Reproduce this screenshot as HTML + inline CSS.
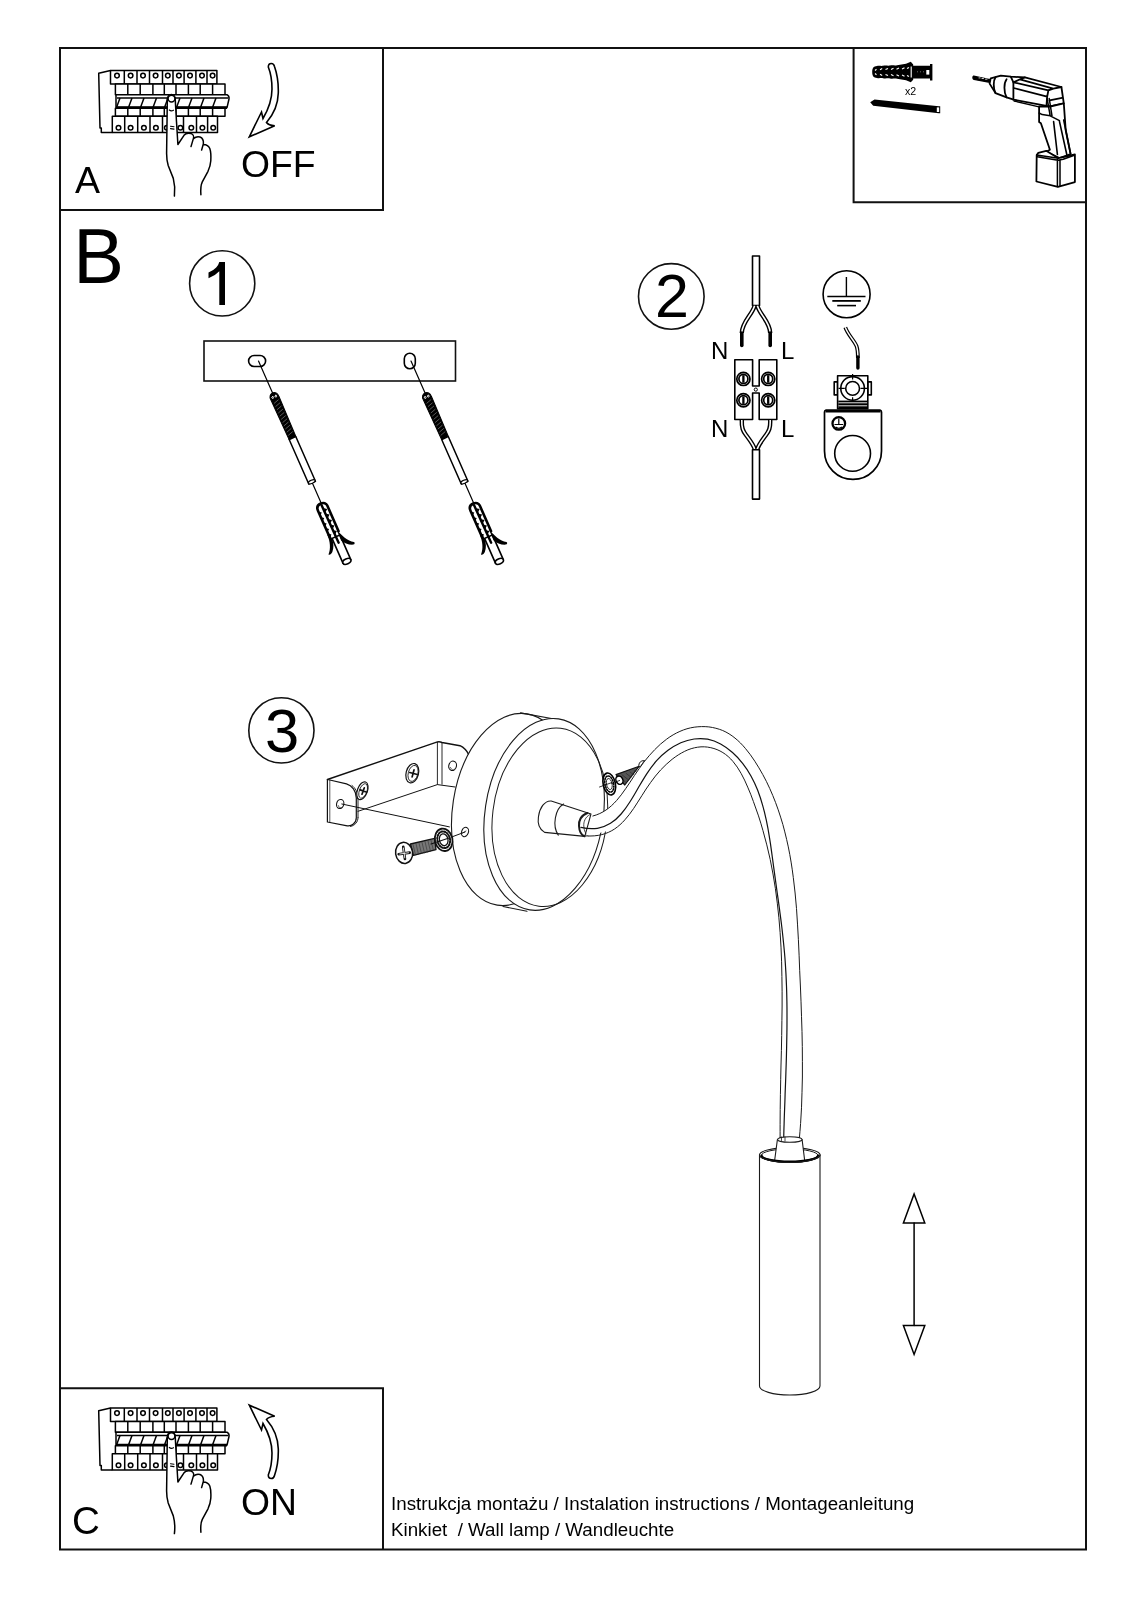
<!DOCTYPE html>
<html><head><meta charset="utf-8">
<style>
html,body{margin:0;padding:0;background:#fff;}
body{width:1131px;height:1600px;overflow:hidden;position:relative;}
svg{position:absolute;left:0;top:0;will-change:transform;}
text{font-family:"Liberation Sans",sans-serif;fill:#000;}
</style></head><body>
<svg width="1131" height="1600" viewBox="0 0 1131 1600">
<g id="frame" fill="none" stroke="#111" stroke-width="2">
<rect x="60" y="48" width="1026" height="1501.5"/>
<polyline points="60,210 383,210 383,48"/>
<polyline points="853.6,48 853.6,202.2 1086,202.2"/>
<polyline points="60,1388.2 383,1388.2 383,1549.5"/>
</g><g id="texts">
<text x="75" y="193" font-size="37.5">A</text>
<text x="241" y="177" font-size="37.3">OFF</text>
<text x="73" y="283" font-size="78" transform="translate(80,0) scale(0.975,1) translate(-80,0)">B</text>
<path d="M219.3,262 L225,262 L225,305 L219.3,305 L219.3,271.3 Q215,276 208.5,278.2 L208.5,272.6 Q213,271 216.2,267.6 Q218.6,264.8 219.3,262 Z"/>
<text x="655" y="317" font-size="61">2</text>
<text x="265" y="752" font-size="61.5">3</text>
<text x="711" y="359" font-size="24">N</text>
<text x="781" y="359" font-size="24">L</text>
<text x="711" y="437.3" font-size="24">N</text>
<text x="781" y="437.3" font-size="24">L</text>
<text x="905" y="95.4" font-size="10.6">x2</text>
<text x="241" y="1515.2" font-size="37.3">ON</text>
<text x="72" y="1534" font-size="38.5">C</text>
<text x="391" y="1510.4" font-size="18.75">Instrukcja montażu / Instalation instructions / Montageanleitung</text>
<text x="391" y="1535.8" font-size="18.75">Kinkiet&#160; / Wall lamp / Wandleuchte</text>
</g>
<g id="circles" fill="none" stroke="#111" stroke-width="1.6">
<circle cx="222.2" cy="283.4" r="32.6"/>
<circle cx="671.3" cy="296.4" r="32.8"/>
<circle cx="281.4" cy="730.4" r="32.6"/>
</g><g id="boxA">
<g fill="#fff" stroke="#000" stroke-width="1.5" stroke-linejoin="round">
<path d="M110.5,70.5 L98.7,73.3 L100,128 L101.3,128 L101.3,132.4 L112.3,132.4" fill="none"/>
<rect x="110.5" y="70.5" width="106.4" height="13.6"/>
<line x1="124.3" y1="70.5" x2="124.3" y2="84.1"/>
<line x1="137" y1="70.5" x2="137" y2="84.1"/>
<line x1="149.5" y1="70.5" x2="149.5" y2="84.1"/>
<line x1="162.5" y1="70.5" x2="162.5" y2="84.1"/>
<line x1="173" y1="70.5" x2="173" y2="84.1"/>
<line x1="184.1" y1="70.5" x2="184.1" y2="84.1"/>
<line x1="195.9" y1="70.5" x2="195.9" y2="84.1"/>
<line x1="207" y1="70.5" x2="207" y2="84.1"/>
<circle cx="117" cy="75.6" r="2.3"/>
<circle cx="130.6" cy="75.6" r="2.3"/>
<circle cx="143" cy="75.6" r="2.3"/>
<circle cx="155.6" cy="75.6" r="2.3"/>
<circle cx="167.8" cy="75.6" r="2.3"/>
<circle cx="178.9" cy="75.6" r="2.3"/>
<circle cx="190" cy="75.6" r="2.3"/>
<circle cx="202" cy="75.6" r="2.3"/>
<circle cx="212.6" cy="75.6" r="2.3"/>
<rect x="115.4" y="84.1" width="109.6" height="10.6"/>
<line x1="127.8" y1="84.1" x2="127.8" y2="94.7"/>
<line x1="140.2" y1="84.1" x2="140.2" y2="94.7"/>
<line x1="152.9" y1="84.1" x2="152.9" y2="94.7"/>
<line x1="164.3" y1="84.1" x2="164.3" y2="94.7"/>
<line x1="176" y1="84.1" x2="176" y2="94.7"/>
<line x1="188.4" y1="84.1" x2="188.4" y2="94.7"/>
<line x1="200.2" y1="84.1" x2="200.2" y2="94.7"/>
<line x1="212.6" y1="84.1" x2="212.6" y2="94.7"/>
<path d="M116,94.7 L227,94.7 Q229.5,96 229,99 L227,107.6 L116,107.6 Z"/>
<line x1="117" y1="98" x2="228" y2="98"/>
<line x1="120" y1="98" x2="116.5" y2="107.6"/>
<line x1="132" y1="98" x2="128.5" y2="107.6"/>
<line x1="144" y1="98" x2="140.5" y2="107.6"/>
<line x1="156.5" y1="98" x2="153" y2="107.6"/>
<line x1="168" y1="98" x2="164.5" y2="107.6"/>
<line x1="180" y1="98" x2="176.5" y2="107.6"/>
<line x1="192" y1="98" x2="188.5" y2="107.6"/>
<line x1="204" y1="98" x2="200.5" y2="107.6"/>
<line x1="216" y1="98" x2="212.5" y2="107.6"/>
<line x1="116" y1="107.6" x2="227" y2="107.6" stroke-width="2.6"/>
<rect x="115.4" y="108.3" width="109.6" height="8"/>
<line x1="127.8" y1="108.3" x2="127.8" y2="116.3"/>
<line x1="140.2" y1="108.3" x2="140.2" y2="116.3"/>
<line x1="152.9" y1="108.3" x2="152.9" y2="116.3"/>
<line x1="164.3" y1="108.3" x2="164.3" y2="116.3"/>
<line x1="176" y1="108.3" x2="176" y2="116.3"/>
<line x1="188.4" y1="108.3" x2="188.4" y2="116.3"/>
<line x1="200.2" y1="108.3" x2="200.2" y2="116.3"/>
<line x1="212.6" y1="108.3" x2="212.6" y2="116.3"/>
<rect x="112.3" y="116.3" width="105.2" height="16.1"/>
<line x1="124.7" y1="116.3" x2="124.7" y2="132.4"/>
<line x1="137.7" y1="116.3" x2="137.7" y2="132.4"/>
<line x1="150" y1="116.3" x2="150" y2="132.4"/>
<line x1="162.5" y1="116.3" x2="162.5" y2="132.4"/>
<line x1="172.5" y1="116.3" x2="172.5" y2="132.4"/>
<line x1="183.5" y1="116.3" x2="183.5" y2="132.4"/>
<line x1="196.5" y1="116.3" x2="196.5" y2="132.4"/>
<line x1="207.6" y1="116.3" x2="207.6" y2="132.4"/>
<circle cx="118.5" cy="127.8" r="2.3"/>
<circle cx="130.6" cy="127.8" r="2.3"/>
<circle cx="143.9" cy="127.8" r="2.3"/>
<circle cx="155.9" cy="127.8" r="2.3"/>
<circle cx="166.8" cy="127.8" r="2.3"/>
<circle cx="180.4" cy="127.8" r="2.3"/>
<circle cx="191.3" cy="127.8" r="2.3"/>
<circle cx="202.4" cy="127.8" r="2.3"/>
<circle cx="213.2" cy="127.8" r="2.3"/>
</g>
<g fill="#fff" stroke="#000" stroke-width="1.5" stroke-linecap="round" stroke-linejoin="round">
<path d="M167.3,100.6 C167.3,96 169,94.6 171.5,94.6 C174,94.6 175.3,96 175.3,100.6 L176.5,121.8 L177.9,144.5 L184,135.3 L193.5,138.1 L203.5,144 L210,150 L210.8,160.7 L200.9,194.7 L174.4,196.1 L166.6,153.6 Z" stroke="none"/>
<path fill="none" d="M167.3,100.6 C167.3,96 169,94.6 171.5,94.6 C174,94.6 175.3,96 175.3,100.6 L176.5,121.8 L177.9,144.5 L184,135.3 C185.5,133.3 188,132.8 191,133.5 C193,134.2 194,136.5 193.5,138.1 L191,146.6 M193.8,138.6 C195.5,136.8 198,136.5 200,137 C202.5,138 203.6,141 203.4,143.7 L201.6,150.1 M203.6,144.4 C206,144.4 208.5,145.5 209.8,148.5 C211,152 211,157 210.8,160.7 C210.5,165 209.5,168 208,171.3 L202.3,181.9 C200.8,185 200.4,188 200.9,194.7 M174.4,196.1 C175.2,190 175,185 173.3,178.4 L168.2,165.5 C166.8,161 166.6,157 166.6,153.6 L167.3,100.6"/>
<circle cx="171.5" cy="98.6" r="3.4"/>
<path d="M169.3,110 Q171.2,111.5 173.4,110.2" fill="none" stroke-width="1.2"/>
<path d="M170.5,126.2 L174,126.7 M170.5,128.6 L174,129.1" fill="none" stroke-width="1.1"/>
</g>
<path d="M268.3,67 Q268.3,63.5 271.3,63.5 Q273.8,63.5 274.5,66.5 C277.5,75 278.5,85 278.3,93 C278,105 273,115 266.5,122.5 Q268.5,125.3 274.7,125.8 L249.3,136.8 L261.5,112 L263,118.5 C268,110 272,100 272,89 C272,80 270.3,72 268.3,67 Z" fill="none" stroke="#000" stroke-width="1.6" stroke-linejoin="miter"/>
</g><g id="boxC">
<g transform="translate(0,1337.5)">
<g fill="#fff" stroke="#000" stroke-width="1.5" stroke-linejoin="round">
<path d="M110.5,70.5 L98.7,73.3 L100,128 L101.3,128 L101.3,132.4 L112.3,132.4" fill="none"/>
<rect x="110.5" y="70.5" width="106.4" height="13.6"/>
<line x1="124.3" y1="70.5" x2="124.3" y2="84.1"/>
<line x1="137" y1="70.5" x2="137" y2="84.1"/>
<line x1="149.5" y1="70.5" x2="149.5" y2="84.1"/>
<line x1="162.5" y1="70.5" x2="162.5" y2="84.1"/>
<line x1="173" y1="70.5" x2="173" y2="84.1"/>
<line x1="184.1" y1="70.5" x2="184.1" y2="84.1"/>
<line x1="195.9" y1="70.5" x2="195.9" y2="84.1"/>
<line x1="207" y1="70.5" x2="207" y2="84.1"/>
<circle cx="117" cy="75.6" r="2.3"/>
<circle cx="130.6" cy="75.6" r="2.3"/>
<circle cx="143" cy="75.6" r="2.3"/>
<circle cx="155.6" cy="75.6" r="2.3"/>
<circle cx="167.8" cy="75.6" r="2.3"/>
<circle cx="178.9" cy="75.6" r="2.3"/>
<circle cx="190" cy="75.6" r="2.3"/>
<circle cx="202" cy="75.6" r="2.3"/>
<circle cx="212.6" cy="75.6" r="2.3"/>
<rect x="115.4" y="84.1" width="109.6" height="10.6"/>
<line x1="127.8" y1="84.1" x2="127.8" y2="94.7"/>
<line x1="140.2" y1="84.1" x2="140.2" y2="94.7"/>
<line x1="152.9" y1="84.1" x2="152.9" y2="94.7"/>
<line x1="164.3" y1="84.1" x2="164.3" y2="94.7"/>
<line x1="176" y1="84.1" x2="176" y2="94.7"/>
<line x1="188.4" y1="84.1" x2="188.4" y2="94.7"/>
<line x1="200.2" y1="84.1" x2="200.2" y2="94.7"/>
<line x1="212.6" y1="84.1" x2="212.6" y2="94.7"/>
<path d="M116,94.7 L227,94.7 Q229.5,96 229,99 L227,107.6 L116,107.6 Z"/>
<line x1="117" y1="98" x2="228" y2="98"/>
<line x1="120" y1="98" x2="116.5" y2="107.6"/>
<line x1="132" y1="98" x2="128.5" y2="107.6"/>
<line x1="144" y1="98" x2="140.5" y2="107.6"/>
<line x1="156.5" y1="98" x2="153" y2="107.6"/>
<line x1="168" y1="98" x2="164.5" y2="107.6"/>
<line x1="180" y1="98" x2="176.5" y2="107.6"/>
<line x1="192" y1="98" x2="188.5" y2="107.6"/>
<line x1="204" y1="98" x2="200.5" y2="107.6"/>
<line x1="216" y1="98" x2="212.5" y2="107.6"/>
<line x1="116" y1="107.6" x2="227" y2="107.6" stroke-width="2.6"/>
<rect x="115.4" y="108.3" width="109.6" height="8"/>
<line x1="127.8" y1="108.3" x2="127.8" y2="116.3"/>
<line x1="140.2" y1="108.3" x2="140.2" y2="116.3"/>
<line x1="152.9" y1="108.3" x2="152.9" y2="116.3"/>
<line x1="164.3" y1="108.3" x2="164.3" y2="116.3"/>
<line x1="176" y1="108.3" x2="176" y2="116.3"/>
<line x1="188.4" y1="108.3" x2="188.4" y2="116.3"/>
<line x1="200.2" y1="108.3" x2="200.2" y2="116.3"/>
<line x1="212.6" y1="108.3" x2="212.6" y2="116.3"/>
<rect x="112.3" y="116.3" width="105.2" height="16.1"/>
<line x1="124.7" y1="116.3" x2="124.7" y2="132.4"/>
<line x1="137.7" y1="116.3" x2="137.7" y2="132.4"/>
<line x1="150" y1="116.3" x2="150" y2="132.4"/>
<line x1="162.5" y1="116.3" x2="162.5" y2="132.4"/>
<line x1="172.5" y1="116.3" x2="172.5" y2="132.4"/>
<line x1="183.5" y1="116.3" x2="183.5" y2="132.4"/>
<line x1="196.5" y1="116.3" x2="196.5" y2="132.4"/>
<line x1="207.6" y1="116.3" x2="207.6" y2="132.4"/>
<circle cx="118.5" cy="127.8" r="2.3"/>
<circle cx="130.6" cy="127.8" r="2.3"/>
<circle cx="143.9" cy="127.8" r="2.3"/>
<circle cx="155.9" cy="127.8" r="2.3"/>
<circle cx="166.8" cy="127.8" r="2.3"/>
<circle cx="180.4" cy="127.8" r="2.3"/>
<circle cx="191.3" cy="127.8" r="2.3"/>
<circle cx="202.4" cy="127.8" r="2.3"/>
<circle cx="213.2" cy="127.8" r="2.3"/>
</g>
<g fill="#fff" stroke="#000" stroke-width="1.5" stroke-linecap="round" stroke-linejoin="round">
<path d="M167.3,100.6 C167.3,96 169,94.6 171.5,94.6 C174,94.6 175.3,96 175.3,100.6 L176.5,121.8 L177.9,144.5 L184,135.3 L193.5,138.1 L203.5,144 L210,150 L210.8,160.7 L200.9,194.7 L174.4,196.1 L166.6,153.6 Z" stroke="none"/>
<path fill="none" d="M167.3,100.6 C167.3,96 169,94.6 171.5,94.6 C174,94.6 175.3,96 175.3,100.6 L176.5,121.8 L177.9,144.5 L184,135.3 C185.5,133.3 188,132.8 191,133.5 C193,134.2 194,136.5 193.5,138.1 L191,146.6 M193.8,138.6 C195.5,136.8 198,136.5 200,137 C202.5,138 203.6,141 203.4,143.7 L201.6,150.1 M203.6,144.4 C206,144.4 208.5,145.5 209.8,148.5 C211,152 211,157 210.8,160.7 C210.5,165 209.5,168 208,171.3 L202.3,181.9 C200.8,185 200.4,188 200.9,194.7 M174.4,196.1 C175.2,190 175,185 173.3,178.4 L168.2,165.5 C166.8,161 166.6,157 166.6,153.6 L167.3,100.6"/>
<circle cx="171.5" cy="98.6" r="3.4"/>
<path d="M169.3,110 Q171.2,111.5 173.4,110.2" fill="none" stroke-width="1.2"/>
<path d="M170.5,126.2 L174,126.7 M170.5,128.6 L174,129.1" fill="none" stroke-width="1.1"/>
</g>
</g>
<g transform="translate(0,1542) scale(1,-1)"><path d="M268.3,67 Q268.3,63.5 271.3,63.5 Q273.8,63.5 274.5,66.5 C277.5,75 278.5,85 278.3,93 C278,105 273,115 266.5,122.5 Q268.5,125.3 274.7,125.8 L249.3,136.8 L261.5,112 L263,118.5 C268,110 272,100 272,89 C272,80 270.3,72 268.3,67 Z" fill="none" stroke="#000" stroke-width="1.6"/></g>
</g><g id="drill">
<!-- dowel -->
<path d="M872.2,72 C872.2,68 873.5,66.2 877,66 C879,65.3 881,66.3 883,65.8 C885.5,65 887.5,66 890,65.5 C892.5,64.8 894.5,65.8 897,65.2 C900,64.5 903,64.5 906,63.8 L910.8,61.8 L913.2,64.4 L913.2,65.8 L930,65.8 L930,64 L932.4,64 L932.4,80.4 L930,80.4 L930,78.4 L913.2,78.4 L913.2,79.8 L910.8,82.2 L906,80.2 C903,79.5 900,79.5 897,78.8 C894.5,78.2 892.5,79.2 890,78.5 C887.5,78 885.5,79 883,78.2 C881,77.7 879,78.7 877,78 C873.5,77.8 872.2,76 872.2,72 Z" fill="#000"/>
<g stroke="#fff" stroke-width="1.1">
<path d="M875,70.5 l1.5,-1.2 M880,69.8 l2.2,-1.2 M885.5,69.6 l2.5,-1.2 M891,69.4 l2.5,-1.2 M896.5,69.2 l2.5,-1.2 M902,69 l2.5,-1.2 M907,68.6 l2,-1"/>
<path d="M875,73.5 l1.5,1.2 M880,74.2 l2.2,1.2 M885.5,74.4 l2.5,1.2 M891,74.6 l2.5,1.2 M896.5,74.8 l2.5,1.2 M902,75 l2.5,1.2 M907,75.4 l2,1"/>
<path d="M911.2,66.5 v11"/>
</g>
<rect x="926.3" y="70" width="3" height="4.6" fill="#fff"/>
<path d="M917,71.8 h1 M920,71.8 h1 M923,71.8 h1" stroke="#888" stroke-width="0.8"/>
<!-- screw -->
<path d="M870.2,102.2 L874.5,99.6 L938.8,106.2 L940.2,106.2 L940.2,113.2 L938.8,113.2 L873.2,105.8 Z" fill="#000"/>
<rect x="936.8" y="107.4" width="2.4" height="4.6" fill="#fff"/>
<!-- drill -->
<g fill="#fff" stroke="#000" stroke-width="1.8" stroke-linejoin="round" stroke-linecap="round">
<path d="M973.7,76.2 C972.5,77 972.8,79 974,79.4 L989.8,82.2 L989.8,79.6 Z" fill="#000" stroke-width="1.4"/>
<path d="M979,77.9 h1.2 M982,78.5 h1.5 M985.5,79.2 h1.5" stroke="#fff" stroke-width="0.8"/>
<path d="M990.7,78.3 L1000.8,75.6 L1010.8,76.7 L1024.9,77.4 L1061.4,87 L1063.8,103.4 L1050.2,106.5 L1046.5,105.9 L1013.7,99.7 L1006.6,97.4 L995.5,93.1 L989.6,83.6 Z"/>
<path d="M995.5,77.2 C993.3,80.5 993,88 995.5,93.1 M1006.6,79.3 C1003.8,83 1003.6,92 1006.6,97.4" fill="none"/>
<path d="M1010.8,76.7 L1013.4,82.4 L1013.4,99.7" fill="none"/>
<path d="M1013.4,82.4 L1019.9,79.3 L1024.9,77.4 M1019.9,79.3 L1053.3,88.6 L1061.4,87 M1013.7,82.4 L1048.4,90.4 L1053.3,88.6" fill="none"/>
<path d="M1013.7,88 L1047.1,96.6 M1048.4,90.4 L1047.1,97 L1046.5,105.9 M1049.6,100.3 L1062,97.8" fill="none"/>
<path d="M1014,101 L1039,106.8" fill="none" stroke-width="1.3"/>
<path d="M1039.1,106.5 L1050.2,106.5 L1063.8,103.4 L1065.7,130 L1070.6,154 L1059.5,158 L1046.2,151.8 L1049.9,149.7 L1040.9,123.2 L1039.1,122 Z"/>
<path d="M1039.1,113 L1042.2,114.6 L1050.2,115.8 L1059.5,120.7 M1047.1,98.5 L1050.2,115.8 M1049.2,98.5 L1052,115.8" fill="none" stroke-width="1.5"/>
<path d="M1053.6,121.6 L1057.4,154.5 M1059.5,121.6 L1066.9,155 M1063.7,120 L1070.6,154" fill="none" stroke-width="1.6"/>
<path d="M1036.7,155 L1038.3,152.9 L1046.2,150.8 L1058.4,158.2 L1074.9,154.5 L1074.9,182.1 L1057.9,186.8 L1036.4,181.5 Z"/>
<path d="M1036.7,155 L1058.4,158.2 M1037.2,156.8 L1057.9,160.3 L1063.2,159.3 L1074.3,155.2 M1057.4,159.5 L1057.4,186.5 M1060,160 L1060,186" fill="none" stroke-width="1.5"/>
</g>
</g>
<g id="part1">
<rect x="204" y="341" width="251.5" height="40" fill="none" stroke="#111" stroke-width="1.6"/>
<rect x="248.6" y="355.5" width="17" height="11" rx="5.5" fill="none" stroke="#000" stroke-width="1.6"/>
<rect x="404.3" y="353.2" width="11" height="15.6" rx="5.5" fill="none" stroke="#000" stroke-width="1.6"/>
<g transform="translate(258.5,361) rotate(-23.8)"><g fill="#fff" stroke="#000" stroke-linejoin="round" stroke-linecap="round">
<line x1="0" y1="0" x2="0" y2="36" stroke-width="1.2"/>
<path d="M-4.4,40.5 C-4.8,37 -2.5,34.8 0,34.8 C2.5,34.8 4.8,37 4.4,40.5 L3.7,84.2 L-3.7,84.2 Z" fill="#000" stroke-width="1"/>
<g stroke="#fff" stroke-width="0.8" fill="none">
<path d="M-1.8,38.2 a0.9,0.9 0 1,0 0.1,0 M1.6,38.2 a0.9,0.9 0 1,0 0.1,0"/>
</g>
<g stroke="#fff" stroke-width="0.45" stroke-opacity="0.7" fill="none">
<path d="M-2.5,45 L2.5,43.5 M-2.5,48.5 L2.5,47 M-2.5,52 L2.5,50.5 M-2.5,55.5 L2.5,54 M-2.5,59 L2.5,57.5 M-2.5,62.5 L2.5,61 M-2.5,66 L2.5,64.5 M-2.5,69.5 L2.5,68 M-2.5,73 L2.5,71.5 M-2.5,76.5 L2.5,75 M-2.5,80 L2.5,78.5"/>
</g>
<rect x="-3.6" y="84.2" width="7.2" height="48.8" stroke-width="1.5"/>
<ellipse cx="0" cy="132" rx="3.6" ry="1.6" stroke-width="1.2"/>
<line x1="0" y1="134" x2="0" y2="156" stroke-width="1.2"/>
<path d="M-4.3,192 L-4.3,219 L4.3,219 L4.3,192 Z" stroke-width="1.6"/>
<ellipse cx="0" cy="219" rx="4.3" ry="2.6" stroke-width="1.6"/>
<path d="M-6,190 L-6,161 C-6,157 -3.5,155.5 -0.5,155.5 C2.5,155.5 4.6,157.5 4.6,160 L4.6,188" stroke-width="2.6"/>
<g fill="#000" stroke="none">
<path d="M-6,162 l2.8,2.2 l-2.8,2.2 Z M-6,168 l2.8,2.2 l-2.8,2.2 Z M-6,174 l2.8,2.2 l-2.8,2.2 Z M-6,180 l2.8,2.2 l-2.8,2.2 Z M-6,186 l2.8,2.2 l-2.8,2.2 Z"/>
<path d="M0.3,161 l2.8,2.2 l-2.8,2.2 Z M0.3,167 l2.8,2.2 l-2.8,2.2 Z M0.3,173 l2.8,2.2 l-2.8,2.2 Z M0.3,179 l2.8,2.2 l-2.8,2.2 Z M0.3,185 l2.8,2.2 l-2.8,2.2 Z"/>
<path d="M-7.2,187 C-7.2,194 -9.5,201 -14,205.2 C-13.5,206.5 -11,206 -9.5,204.5 C-6.5,201.5 -4.6,197 -4.4,192 L-4.6,187 Z"/>
<path d="M3.4,185 C5.5,193.5 9,200.5 14.3,204 C15.2,204.8 14.5,206.5 12.5,206.2 C8,204.5 5,201 3.2,197.5 Z"/>
</g>
<path d="M-0.5,157.5 L0,198.6" stroke-width="2.4"/>
</g>
</g>
<g transform="translate(411,361) rotate(-23.8)"><g fill="#fff" stroke="#000" stroke-linejoin="round" stroke-linecap="round">
<line x1="0" y1="0" x2="0" y2="36" stroke-width="1.2"/>
<path d="M-4.4,40.5 C-4.8,37 -2.5,34.8 0,34.8 C2.5,34.8 4.8,37 4.4,40.5 L3.7,84.2 L-3.7,84.2 Z" fill="#000" stroke-width="1"/>
<g stroke="#fff" stroke-width="0.8" fill="none">
<path d="M-1.8,38.2 a0.9,0.9 0 1,0 0.1,0 M1.6,38.2 a0.9,0.9 0 1,0 0.1,0"/>
</g>
<g stroke="#fff" stroke-width="0.45" stroke-opacity="0.7" fill="none">
<path d="M-2.5,45 L2.5,43.5 M-2.5,48.5 L2.5,47 M-2.5,52 L2.5,50.5 M-2.5,55.5 L2.5,54 M-2.5,59 L2.5,57.5 M-2.5,62.5 L2.5,61 M-2.5,66 L2.5,64.5 M-2.5,69.5 L2.5,68 M-2.5,73 L2.5,71.5 M-2.5,76.5 L2.5,75 M-2.5,80 L2.5,78.5"/>
</g>
<rect x="-3.6" y="84.2" width="7.2" height="48.8" stroke-width="1.5"/>
<ellipse cx="0" cy="132" rx="3.6" ry="1.6" stroke-width="1.2"/>
<line x1="0" y1="134" x2="0" y2="156" stroke-width="1.2"/>
<path d="M-4.3,192 L-4.3,219 L4.3,219 L4.3,192 Z" stroke-width="1.6"/>
<ellipse cx="0" cy="219" rx="4.3" ry="2.6" stroke-width="1.6"/>
<path d="M-6,190 L-6,161 C-6,157 -3.5,155.5 -0.5,155.5 C2.5,155.5 4.6,157.5 4.6,160 L4.6,188" stroke-width="2.6"/>
<g fill="#000" stroke="none">
<path d="M-6,162 l2.8,2.2 l-2.8,2.2 Z M-6,168 l2.8,2.2 l-2.8,2.2 Z M-6,174 l2.8,2.2 l-2.8,2.2 Z M-6,180 l2.8,2.2 l-2.8,2.2 Z M-6,186 l2.8,2.2 l-2.8,2.2 Z"/>
<path d="M0.3,161 l2.8,2.2 l-2.8,2.2 Z M0.3,167 l2.8,2.2 l-2.8,2.2 Z M0.3,173 l2.8,2.2 l-2.8,2.2 Z M0.3,179 l2.8,2.2 l-2.8,2.2 Z M0.3,185 l2.8,2.2 l-2.8,2.2 Z"/>
<path d="M-7.2,187 C-7.2,194 -9.5,201 -14,205.2 C-13.5,206.5 -11,206 -9.5,204.5 C-6.5,201.5 -4.6,197 -4.4,192 L-4.6,187 Z"/>
<path d="M3.4,185 C5.5,193.5 9,200.5 14.3,204 C15.2,204.8 14.5,206.5 12.5,206.2 C8,204.5 5,201 3.2,197.5 Z"/>
</g>
<path d="M-0.5,157.5 L0,198.6" stroke-width="2.4"/>
</g>
</g>
</g>
<g id="part2" fill="none" stroke="#000" stroke-linejoin="round">
<!-- top cable -->
<rect x="752.5" y="256" width="7" height="49.5" fill="#fff" stroke-width="1.6"/>
<path d="M754.6,305.8 C752,315 742,322 741.8,333" stroke-width="4.4"/>
<path d="M754.6,305.8 C752,315 742,322 741.8,333" stroke="#fff" stroke-width="1.6"/>
<path d="M757.4,305.8 C760,315 770,322 770.2,333" stroke-width="4.4"/>
<path d="M757.4,305.8 C760,315 770,322 770.2,333" stroke="#fff" stroke-width="1.6"/>
<line x1="741.8" y1="333" x2="741.8" y2="345.5" stroke-width="3.6" stroke-linecap="round"/>
<line x1="770.2" y1="333" x2="770.2" y2="345.5" stroke-width="3.6" stroke-linecap="round"/>
<!-- terminal block -->
<path d="M734.8,359.7 L752.6,359.7 L752.6,386 L759.2,386 L759.2,359.7 L776.8,359.7 L776.8,419.5 L759.2,419.5 L759.2,393 L752.6,393 L752.6,419.5 L734.8,419.5 Z" fill="#fff" stroke-width="1.6"/>
<line x1="752.6" y1="386" x2="752.6" y2="393" stroke-width="0"/>
<circle cx="755.8" cy="389.6" r="1.6" stroke-width="1"/>
<g stroke-width="1.7">
<circle cx="743.4" cy="378.9" r="6.6"/><circle cx="743.4" cy="378.9" r="4.5"/>
<circle cx="768.2" cy="378.9" r="6.6"/><circle cx="768.2" cy="378.9" r="4.5"/>
<circle cx="743.4" cy="400.2" r="6.6"/><circle cx="743.4" cy="400.2" r="4.5"/>
<circle cx="768.2" cy="400.2" r="6.6"/><circle cx="768.2" cy="400.2" r="4.5"/>
</g>
<g stroke-width="2.3">
<line x1="743.4" y1="375.2" x2="743.4" y2="382.6"/><line x1="768.2" y1="375.2" x2="768.2" y2="382.6"/>
<line x1="743.4" y1="396.5" x2="743.4" y2="403.9"/><line x1="768.2" y1="396.5" x2="768.2" y2="403.9"/>
</g>
<!-- bottom wires -->
<path d="M741.8,420 C741.5,428 743,431 746,435 C750,440.5 753,444 754.8,449.2" stroke-width="4.4"/>
<path d="M741.8,420 C741.5,428 743,431 746,435 C750,440.5 753,444 754.8,449.2" stroke="#fff" stroke-width="1.6"/>
<path d="M770.2,420 C770.5,428 769,431 766,435 C762,440.5 759,444 757.2,449.2" stroke-width="4.4"/>
<path d="M770.2,420 C770.5,428 769,431 766,435 C762,440.5 759,444 757.2,449.2" stroke="#fff" stroke-width="1.6"/>
<rect x="752.5" y="449.8" width="7" height="49.3" fill="#fff" stroke-width="1.6"/>
<!-- ground symbol -->
<circle cx="846.6" cy="294.3" r="23.5" stroke-width="1.6"/>
<line x1="846.4" y1="277" x2="846.4" y2="296.4" stroke-width="1.4"/>
<line x1="827.3" y1="296.4" x2="865.5" y2="296.4" stroke-width="1.5"/>
<line x1="832.3" y1="300.9" x2="860.8" y2="300.9" stroke-width="1.8"/>
<line x1="837.2" y1="305.6" x2="856" y2="305.6" stroke-width="1.6"/>
<!-- ground wire -->
<path d="M845.3,327.3 C848,335 854,340 856.5,346 C857.8,349.5 857.9,353 857.9,358" stroke-width="3.8"/>
<path d="M845.3,327.3 C848,335 854,340 856.5,346 C857.8,349.5 857.9,353 857.9,358" stroke="#fff" stroke-width="1.4"/>
<line x1="857.9" y1="357" x2="857.9" y2="368" stroke-width="3.4" stroke-linecap="round"/>
<!-- lug -->
<g stroke-width="1.6">
<rect x="834.2" y="381.9" width="3.4" height="13" fill="#fff"/>
<rect x="867.8" y="381.9" width="3.5" height="13" fill="#fff"/>
<rect x="837.6" y="375.8" width="30.2" height="32.9" fill="#fff"/>
<circle cx="852.6" cy="388.4" r="11.8"/>
<circle cx="852.6" cy="388.4" r="6.9"/>
<path d="M852.6,374 v5.5 M852.6,397.3 v7 M838.5,388.4 h6.3 M860.5,388.4 h6.5" stroke-width="1.2"/>
<rect x="838.3" y="400.6" width="29" height="8.2" fill="#000" stroke="none"/><path d="M838.5,402.8 h28.6 M838.5,405.8 h28.6" stroke="#fff" stroke-width="0.9"/>
<path d="M826,410.2 L880,410.2 Q881.5,410.5 881.5,412 L881.5,450.9 A28.5,28.5 0 0 1 824.5,450.9 L824.5,412 Q824.5,410.5 826,410.2 Z" fill="#fff" stroke-width="1.7"/>
<line x1="825.5" y1="411.3" x2="880.5" y2="411.3" stroke-width="2.6"/>
<circle cx="852.6" cy="453.4" r="17.9"/>
<circle cx="838.8" cy="423.4" r="6.3" stroke-width="2.3"/>
<path d="M838.8,418.5 v6 M834.5,424.5 h8.6 M835.5,427 Q838.8,429.5 842,427" stroke-width="1.2"/>
</g>
</g>
<g id="part3" fill="none" stroke="#000" stroke-linejoin="round" stroke-linecap="round">
<g stroke-width="1.1" stroke="#111">
<path d="M327.4,779.5 L436.7,742.1 L442,742.5 L460,745.7 C464,747.5 467,751 468.9,754.9 L463,800 L455.1,787 L437.4,784.6 L358,811.3 L358,817.7 C357.5,822.5 353,826 349.2,825.7 L327.4,822 Z" fill="#fff" stroke="none"/>
<path d="M327.4,779.5 L436.7,742.1 C438.5,741.6 440.5,741.8 442,742.5 L460,745.7 C464,747.5 467,751 468.9,754.9" stroke-width="1.4"/>
<path d="M327.4,779.5 L327.4,822 L346,825.6 C352,827.2 356.3,822.5 356.3,817.7 L356.3,798 C356.3,791 352,785.3 346.5,783.8 L329.8,780 L327.4,779.5" stroke-width="1.2"/>
<path d="M358,798.6 L358,817.7 M352,785.5 C355.5,788 357.5,792 358,798.6 M358,817.7 C358,822 355,825.5 350.5,826.5" stroke-width="0.9"/>
<path d="M329.8,780 L329.8,822.5" stroke-width="0.7"/>
<path d="M358,811.3 L437.4,784.6 L455.1,787" stroke-width="1"/>
<path d="M437.4,742 L437.4,784.5 M442,742.6 L442,784.2" stroke-width="0.9"/>
<ellipse cx="340.2" cy="804" rx="3.6" ry="4.6" transform="rotate(15 340.2 804)" stroke-width="1.1"/>
<path d="M338.2,805.5 C339,808 341,808.5 342.5,807" stroke-width="0.7"/>
<ellipse cx="452.6" cy="765.8" rx="3.8" ry="4.8" transform="rotate(15 452.6 765.8)" stroke-width="1.1"/>
<path d="M450.5,767.5 C451.3,770 453.3,770.5 454.8,769" stroke-width="0.7"/>
<g transform="translate(362.4,790.7) rotate(20)"><ellipse rx="5" ry="9.3" fill="#fff" stroke-width="1.2"/><ellipse cx="0.8" rx="3.8" ry="7.6" stroke-width="0.8"/><path d="M0.8,-3.4 v6.8 M-2.4,0 h6.4" stroke-width="1.7"/></g>
<g transform="translate(412.3,773.2) rotate(15)"><ellipse rx="6.2" ry="9.9" fill="#fff" stroke-width="1.2"/><ellipse cx="0.8" rx="4.8" ry="8.2" stroke-width="0.8"/><path d="M0.8,-3.6 v7.2 M-2.6,0 h6.8" stroke-width="1.7"/></g>
<line x1="341.8" y1="804" x2="449.4" y2="826.9" stroke-width="1"/>
</g>
<g stroke-width="1.1" stroke="#1a1a1a">
<ellipse cx="512" cy="809.5" rx="59.3" ry="96.8" transform="rotate(8.8 512 809.5)" fill="#fff"/>
<path d="M520.5,712.9 L555.5,719.3 M503,906.5 L527,911.3" />
<ellipse cx="544.1" cy="814.4" rx="59.1" ry="96.6" transform="rotate(8.6 544.1 814.4)" fill="#fff"/>
<ellipse cx="549.8" cy="817.2" rx="57.2" ry="89.6" transform="rotate(7 549.8 817.2)" stroke-width="1"/>
</g>
<g stroke-width="1.1" stroke="#111">
<line x1="449" y1="838" x2="465" y2="832" stroke-width="1"/>
<ellipse cx="465" cy="832" rx="3.4" ry="4.8" transform="rotate(20 465 832)" stroke-width="1.1"/>
<path d="M462.5,833 L466,831" stroke-width="0.7"/>
<path d="M410.5,844 L434.6,838.4 L436,849.7 L413.3,855.4 Z" fill="#777" stroke-width="1.3"/>
<path d="M413,844.5 L415.5,855 M416,843.8 L418.5,854.3 M419,843.1 L421.5,853.6 M422,842.4 L424.5,852.9 M425,841.7 L427.5,852.2 M428,841 L430.5,851.4 M431,840.3 L433.5,850.7" stroke-width="0.6" stroke="#333"/>
<g transform="translate(404.1,852.9) rotate(-8)"><ellipse rx="8.5" ry="10.6" fill="#fff" stroke-width="1.5"/><path d="M0,-6.2 v12.4 M-5.6,0.5 h11.2" stroke-width="2.6"/><path d="M0,-5 v10 M-4.4,0.5 h8.8" stroke-width="0.8" stroke="#fff"/></g>
<g transform="translate(443.7,839.8) rotate(-12)"><ellipse rx="8.8" ry="11.3" fill="#fff" stroke-width="1.8"/><ellipse rx="6.3" ry="8.4" stroke-width="2" stroke-dasharray="1.3 1.5"/><ellipse rx="4.3" ry="6" stroke-width="1.3"/></g>
<line x1="431" y1="844" x2="449" y2="838" stroke-width="1.1"/>
</g>
<g stroke-width="1.1">
<path d="M616,774.6 L639.2,766.2 L624.8,785 Z" fill="#555" stroke="#111" stroke-width="1.2"/>
<path d="M618.5,776.5 L625.5,782 M622,774.8 L628,779.5 M626,773.3 L631,777.2 M630,772 L634,775 M634,770.4 L637,772.5" stroke="#222" stroke-width="0.6"/>
<path d="M638.8,766.3 C638.5,762.5 641,760.5 644.5,760.5 L640.5,766.5 Z" fill="#fff" stroke-width="0.9"/>
<ellipse cx="619.4" cy="780.2" rx="3.4" ry="4.3" transform="rotate(-25 619.4 780.2)" fill="#fff" stroke-width="1.5"/>
<line x1="616.8" y1="781.5" x2="619.6" y2="780.5" stroke-width="0.8"/>
<g transform="translate(609.3,784) rotate(-12)"><ellipse rx="6.1" ry="11.1" fill="#fff" stroke-width="1.6"/><ellipse rx="4.3" ry="8.2" stroke-width="1.6" stroke-dasharray="1.2 1.6"/><ellipse rx="2.8" ry="5.6" stroke-width="0.8"/></g>
<line x1="599.5" y1="787" x2="612" y2="782.5" stroke-width="0.8"/>
</g>
<g stroke-width="1.1" stroke="#1a1a1a">
<path d="M551.2,801 L591,813.9 L584.8,836.4 L544.6,832.4 C539,829 537.5,823 538.4,817 C539.5,808 544.5,800.5 551.2,801 Z" fill="#fff"/>
<path d="M563.6,804.1 C555,809 552,826 558.3,835.1" />
<path d="M587.5,813 C581,815 578.5,821 579,826 C579.3,831 581,835 584.5,836.3" stroke-width="2"/>
<path d="M590,814.5 C585,817 583.5,822 583.8,826 C584,830.5 585.5,834 588,836" stroke-width="0.8"/>
</g>
<path d="M592.9,816.0 C597.8,814.7 602.1,812.7 606.0,810.0 C609.9,807.4 613.3,804.2 616.6,800.5 C619.8,796.9 622.8,792.9 625.7,788.6 C628.7,784.4 631.5,779.9 634.5,775.4 C637.5,771.0 640.6,766.5 643.9,762.1 C647.3,757.8 650.9,753.6 654.7,749.7 C658.4,745.8 662.5,742.2 666.7,739.1 C670.9,736.0 675.3,733.4 679.9,731.4 C684.5,729.3 689.3,727.9 694.2,727.2 C699.1,726.5 704.0,726.4 708.8,726.9 C713.6,727.5 718.2,728.7 722.7,730.5 C727.1,732.4 731.2,735.0 735.0,738.1 C738.8,741.1 742.3,744.7 745.6,748.7 C748.9,752.6 752.0,756.8 754.8,761.2 C757.7,765.6 760.3,770.1 762.8,774.6 C765.3,779.1 767.6,783.7 769.7,788.4 C771.8,793.1 773.8,797.8 775.6,802.6 C777.4,807.4 779.1,812.2 780.6,817.1 C782.2,822.0 783.6,826.9 784.8,831.9 C786.1,836.8 787.2,841.9 788.3,846.9 C789.3,851.9 790.3,857.0 791.1,862.1 C791.9,867.2 792.7,872.4 793.3,877.5 C794.0,882.6 794.6,887.8 795.1,893.0 C795.6,898.2 796.1,903.4 796.5,908.5 C796.9,913.7 797.2,918.9 797.5,924.1 C797.8,929.3 798.1,934.5 798.4,939.7 C798.6,944.9 798.9,950.1 799.1,955.2 C799.3,960.4 799.5,965.5 799.7,970.7 C799.9,975.8 800.2,980.9 800.4,986.0 C800.6,991.0 800.8,996.1 801.0,1001.2 C801.2,1006.2 801.4,1011.3 801.5,1016.3 C801.7,1021.4 801.8,1026.4 802.0,1031.5 C802.1,1036.5 802.2,1041.5 802.3,1046.6 C802.4,1051.6 802.4,1056.7 802.4,1061.7 C802.4,1066.8 802.4,1071.9 802.4,1077.0 C802.3,1082.1 802.2,1087.2 802.0,1092.3 C801.9,1097.5 801.7,1102.6 801.5,1107.8 C801.2,1113.0 800.9,1118.2 800.6,1123.4 C800.2,1128.7 799.8,1133.9 799.3,1139.3 L779.7,1139.0 L780.3,1106.2 L781.9,1053.0 L782.3,1030.0 L781.8,966.2 L778.2,921.2 L770.4,865.0 L761.5,830.0 L753.0,794.9 L742.4,774.7 L726.5,754.6 L710.6,744.8 L696.1,746.5 L674.9,757.1 L653.7,779.4 L632.4,812.3 L611.2,830.3 L585.7,836.0" fill="#fff" stroke="none"/>
<path d="M592.9,816.0 C597.8,814.7 602.1,812.7 606.0,810.0 C609.9,807.4 613.3,804.2 616.6,800.5 C619.8,796.9 622.8,792.9 625.7,788.6 C628.7,784.4 631.5,779.9 634.5,775.4 C637.5,771.0 640.6,766.5 643.9,762.1 C647.3,757.8 650.9,753.6 654.7,749.7 C658.4,745.8 662.5,742.2 666.7,739.1 C670.9,736.0 675.3,733.4 679.9,731.4 C684.5,729.3 689.3,727.9 694.2,727.2 C699.1,726.5 704.0,726.4 708.8,726.9 C713.6,727.5 718.2,728.7 722.7,730.5 C727.1,732.4 731.2,735.0 735.0,738.1 C738.8,741.1 742.3,744.7 745.6,748.7 C748.9,752.6 752.0,756.8 754.8,761.2 C757.7,765.6 760.3,770.1 762.8,774.6 C765.3,779.1 767.6,783.7 769.7,788.4 C771.8,793.1 773.8,797.8 775.6,802.6 C777.4,807.4 779.1,812.2 780.6,817.1 C782.2,822.0 783.6,826.9 784.8,831.9 C786.1,836.8 787.2,841.9 788.3,846.9 C789.3,851.9 790.3,857.0 791.1,862.1 C791.9,867.2 792.7,872.4 793.3,877.5 C794.0,882.6 794.6,887.8 795.1,893.0 C795.6,898.2 796.1,903.4 796.5,908.5 C796.9,913.7 797.2,918.9 797.5,924.1 C797.8,929.3 798.1,934.5 798.4,939.7 C798.6,944.9 798.9,950.1 799.1,955.2 C799.3,960.4 799.5,965.5 799.7,970.7 C799.9,975.8 800.2,980.9 800.4,986.0 C800.6,991.0 800.8,996.1 801.0,1001.2 C801.2,1006.2 801.4,1011.3 801.5,1016.3 C801.7,1021.4 801.8,1026.4 802.0,1031.5 C802.1,1036.5 802.2,1041.5 802.3,1046.6 C802.4,1051.6 802.4,1056.7 802.4,1061.7 C802.4,1066.8 802.4,1071.9 802.4,1077.0 C802.3,1082.1 802.2,1087.2 802.0,1092.3 C801.9,1097.5 801.7,1102.6 801.5,1107.8 C801.2,1113.0 800.9,1118.2 800.6,1123.4 C800.2,1128.7 799.8,1133.9 799.3,1139.3" stroke-width="1" stroke="#1a1a1a"/>
<path d="M580.9,827.4 C587.1,828.8 592.5,829.0 597.4,828.3 C602.3,827.5 606.6,825.8 610.5,823.3 C614.4,820.9 617.9,817.7 621.1,814.0 C624.3,810.3 627.2,806.1 630.0,801.7 C632.9,797.2 635.6,792.5 638.3,787.7 C641.1,783.0 643.9,778.2 646.9,773.6 C649.9,769.0 653.1,764.7 656.6,760.7 C660.1,756.8 664.0,753.3 668.0,750.3 C672.1,747.3 676.4,744.8 680.8,742.8 C685.1,740.9 689.6,739.6 694.1,739.0 C698.7,738.4 703.2,738.4 707.6,739.2 C712.1,740.1 716.4,741.7 720.6,744.0 C724.8,746.3 728.8,749.2 732.5,752.5 C736.3,755.8 739.7,759.6 742.8,763.6 C745.9,767.5 748.7,771.8 751.1,776.2 C753.5,780.6 755.7,785.2 757.6,790.0 C759.4,794.8 761.1,799.7 762.5,804.8 C764.0,809.8 765.2,815.0 766.3,820.2 C767.4,825.4 768.4,830.6 769.2,835.9 C770.1,841.2 770.9,846.5 771.6,851.8 C772.3,857.0 773.0,862.3 773.7,867.4 C774.4,872.6 775.1,877.7 775.8,882.7 C776.5,887.8 777.2,892.7 777.9,897.7 C778.6,902.6 779.3,907.5 779.9,912.4 C780.6,917.3 781.2,922.1 781.8,927.0 C782.4,931.9 782.9,936.7 783.4,941.6 C783.9,946.5 784.4,951.3 784.8,956.3 C785.2,961.2 785.5,966.1 785.8,971.1 C786.1,976.1 786.3,981.1 786.5,986.2 C786.7,991.2 786.8,996.3 786.9,1001.5 C787.0,1006.6 787.0,1011.7 787.0,1016.9 C787.0,1022.0 787.0,1027.2 786.9,1032.3 C786.8,1037.5 786.7,1042.7 786.6,1047.9 C786.5,1053.0 786.4,1058.2 786.2,1063.4 C786.0,1068.5 785.9,1073.7 785.7,1078.8 C785.5,1084.0 785.3,1089.1 785.1,1094.2 C785.0,1099.2 784.8,1104.3 784.6,1109.3 C784.4,1114.3 784.2,1119.3 784.1,1124.3 C783.9,1129.2 783.8,1134.1 783.7,1138.9" stroke-width="1.2" stroke="#111"/>
<path d="M585.7,835.9 C591.8,836.3 597.2,835.8 601.9,834.6 C606.7,833.4 610.9,831.4 614.7,828.9 C618.4,826.4 621.8,823.3 624.9,819.8 C628.0,816.4 630.9,812.5 633.7,808.4 C636.4,804.3 639.1,800.0 641.9,795.6 C644.6,791.2 647.5,786.8 650.6,782.5 C653.7,778.1 657.0,773.9 660.6,770.0 C664.3,766.1 668.1,762.5 672.1,759.3 C676.2,756.1 680.4,753.4 684.7,751.3 C688.9,749.2 693.3,747.8 697.7,747.2 C702.1,746.5 706.6,746.7 710.8,747.7 C715.1,748.6 719.2,750.3 722.9,752.6 C726.6,754.9 730.0,757.9 733.0,761.5 C736.0,765.0 738.7,769.0 741.1,773.4 C743.5,777.7 745.7,782.3 747.7,787.1 C749.8,791.8 751.7,796.7 753.4,801.5 C755.2,806.3 756.9,811.1 758.5,815.9 C760.1,820.7 761.6,825.6 762.9,830.4 C764.3,835.2 765.6,840.1 766.8,844.9 C768.0,849.7 769.1,854.6 770.2,859.4 C771.2,864.3 772.1,869.1 773.0,874.0 C773.9,878.8 774.7,883.7 775.4,888.6 C776.1,893.4 776.7,898.3 777.3,903.2 C777.9,908.1 778.4,912.9 778.9,917.8 C779.3,922.7 779.7,927.6 780.1,932.5 C780.4,937.3 780.7,942.2 781.0,947.1 C781.2,952.0 781.4,956.9 781.6,961.8 C781.7,966.7 781.9,971.6 781.9,976.5 C782.0,981.4 782.1,986.3 782.1,991.2 C782.1,996.1 782.1,1001.1 782.1,1006.0 C782.1,1010.9 782.0,1015.8 781.9,1020.7 C781.9,1025.6 781.8,1030.6 781.7,1035.5 C781.6,1040.4 781.5,1045.3 781.4,1050.3 C781.2,1055.2 781.1,1060.1 781.0,1065.0 C780.9,1070.0 780.8,1074.9 780.7,1079.8 C780.6,1084.8 780.5,1089.7 780.4,1094.6 C780.3,1099.6 780.2,1104.5 780.2,1109.4 C780.1,1114.4 780.1,1119.3 780.1,1124.3 C780.1,1129.2 780.1,1134.1 780.1,1139.1" stroke-width="1" stroke="#1a1a1a"/>
<g stroke-width="1.1" stroke="#1a1a1a">
<path d="M759.5,1155 L759.5,1386 A30.2,9 0 0 0 820,1386 L820,1155 Z" fill="#fff"/>
<ellipse cx="789.8" cy="1155" rx="30.3" ry="7.4" fill="#fff"/>
<ellipse cx="789.8" cy="1155.2" rx="28.2" ry="6.2" stroke-width="1"/>
<path d="M777.4,1139.5 L774.6,1160.8 L804.7,1160.8 L802.1,1139.5 Z" fill="#fff" stroke="none"/>
<path d="M777.4,1139.5 L774.6,1160.8 M802.1,1139.5 L804.7,1160.8"/>
<ellipse cx="789.8" cy="1139.5" rx="12.3" ry="2.8" fill="#fff"/>
<path d="M781.5,1137 L781.5,1140.5 M785,1137 L785,1141" stroke-width="0.8"/>
<path d="M761.6,1155.5 A28.2,6.2 0 0 0 818,1155.5" stroke-width="2.2" stroke="#000"/>
<path d="M759.5,1155 A30.3,7.4 0 0 0 820.1,1155" stroke-width="1"/>
</g>
<g stroke-width="1.5" stroke-linejoin="miter">
<line x1="914.1" y1="1223" x2="914.1" y2="1325.6"/>
<path d="M914.1,1194 L924.8,1223 L903.4,1223 Z"/>
<path d="M903.4,1325.6 L924.8,1325.6 L914.1,1354.4 Z"/>
</g>
</g>
</svg>
</body></html>
